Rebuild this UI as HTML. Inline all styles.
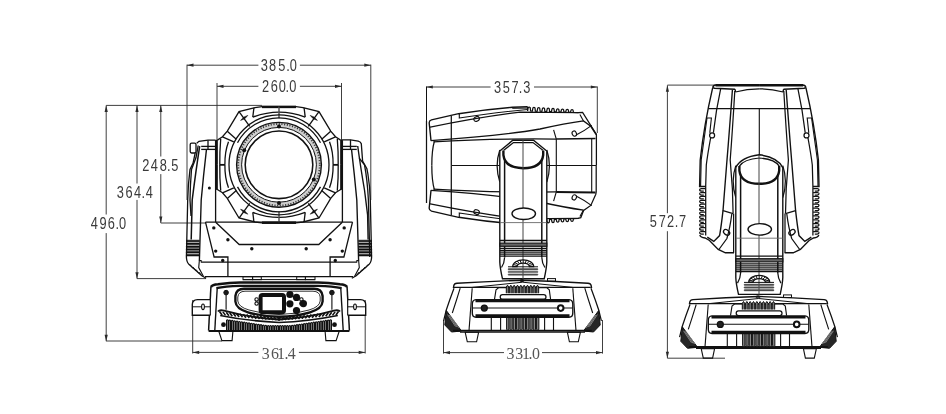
<!DOCTYPE html>
<html><head><meta charset="utf-8"><style>
html,body{margin:0;padding:0;background:#fff;}
svg{display:block;}
text{font-family:"Liberation Sans",sans-serif;}
</style></head><body>
<svg width="946" height="414" viewBox="0 0 946 414">
<defs><filter id="gs" x="-10%" y="-10%" width="120%" height="120%"><feOffset dx="0" dy="0"/></filter></defs>
<rect width="946" height="414" fill="#fff"/>
<line x1="187.00" y1="65.20" x2="258.40" y2="65.20" stroke="#2a2a2a" stroke-width="0.90" />
<line x1="299.90" y1="65.20" x2="370.80" y2="65.20" stroke="#2a2a2a" stroke-width="0.90" />
<polygon points="187.00,65.20 193.50,63.60 193.50,66.80" fill="#2a2a2a"/>
<polygon points="370.80,65.20 364.30,66.80 364.30,63.60" fill="#2a2a2a"/>
<line x1="187.00" y1="64.60" x2="187.00" y2="200.00" stroke="#2a2a2a" stroke-width="0.90" />
<line x1="370.80" y1="64.60" x2="370.80" y2="200.00" stroke="#2a2a2a" stroke-width="0.90" />
<line x1="217.00" y1="86.30" x2="258.40" y2="86.30" stroke="#2a2a2a" stroke-width="0.90" />
<line x1="299.90" y1="86.30" x2="341.50" y2="86.30" stroke="#2a2a2a" stroke-width="0.90" />
<polygon points="217.00,86.30 223.50,84.70 223.50,87.90" fill="#2a2a2a"/>
<polygon points="341.50,86.30 335.00,87.90 335.00,84.70" fill="#2a2a2a"/>
<line x1="217.00" y1="83.00" x2="217.00" y2="140.00" stroke="#2a2a2a" stroke-width="0.90" />
<line x1="341.50" y1="83.00" x2="341.50" y2="140.00" stroke="#2a2a2a" stroke-width="0.90" />
<line x1="106.20" y1="105.40" x2="262.00" y2="105.40" stroke="#2a2a2a" stroke-width="0.90" />
<line x1="106.20" y1="105.40" x2="106.20" y2="214.50" stroke="#2a2a2a" stroke-width="0.90" />
<line x1="106.20" y1="233.10" x2="106.20" y2="341.20" stroke="#2a2a2a" stroke-width="0.90" />
<polygon points="106.20,105.40 107.80,111.90 104.60,111.90" fill="#2a2a2a"/>
<polygon points="106.20,341.20 104.60,334.70 107.80,334.70" fill="#2a2a2a"/>
<line x1="137.00" y1="105.40" x2="137.00" y2="183.50" stroke="#2a2a2a" stroke-width="0.90" />
<line x1="137.00" y1="199.90" x2="137.00" y2="278.70" stroke="#2a2a2a" stroke-width="0.90" />
<polygon points="137.00,105.40 138.60,111.90 135.40,111.90" fill="#2a2a2a"/>
<polygon points="137.00,278.70 135.40,272.20 138.60,272.20" fill="#2a2a2a"/>
<line x1="160.80" y1="105.40" x2="160.80" y2="156.50" stroke="#2a2a2a" stroke-width="0.90" />
<line x1="160.80" y1="174.10" x2="160.80" y2="223.00" stroke="#2a2a2a" stroke-width="0.90" />
<polygon points="160.80,105.40 162.40,111.90 159.20,111.90" fill="#2a2a2a"/>
<polygon points="160.80,223.00 159.20,216.50 162.40,216.50" fill="#2a2a2a"/>
<line x1="160.80" y1="223.00" x2="206.00" y2="223.00" stroke="#2a2a2a" stroke-width="0.90" />
<line x1="137.00" y1="278.60" x2="206.00" y2="278.60" stroke="#2a2a2a" stroke-width="0.90" />
<line x1="106.20" y1="341.00" x2="222.00" y2="341.00" stroke="#2a2a2a" stroke-width="0.90" />
<line x1="192.70" y1="352.40" x2="258.40" y2="352.40" stroke="#2a2a2a" stroke-width="0.90" />
<line x1="298.90" y1="352.40" x2="365.20" y2="352.40" stroke="#2a2a2a" stroke-width="0.90" />
<polygon points="192.70,352.40 199.20,350.80 199.20,354.00" fill="#2a2a2a"/>
<polygon points="365.20,352.40 358.70,354.00 358.70,350.80" fill="#2a2a2a"/>
<line x1="192.70" y1="300.00" x2="192.70" y2="353.50" stroke="#2a2a2a" stroke-width="0.90" />
<line x1="365.20" y1="300.00" x2="365.20" y2="353.50" stroke="#2a2a2a" stroke-width="0.90" />
<text x="0" y="0" transform="translate(264.40,70.80) scale(0.8,1)" font-size="16"  text-anchor="middle" fill="#3a3a3a" filter="url(#gs)">3</text>
<text x="0" y="0" transform="translate(272.50,70.80) scale(0.8,1)" font-size="16"  text-anchor="middle" fill="#3a3a3a" filter="url(#gs)">8</text>
<text x="0" y="0" transform="translate(281.80,70.80) scale(0.8,1)" font-size="16"  text-anchor="middle" fill="#3a3a3a" filter="url(#gs)">5</text>
<text x="0" y="0" transform="translate(288.00,70.80) scale(0.8,1)" font-size="16"  text-anchor="middle" fill="#3a3a3a" filter="url(#gs)">.</text>
<text x="0" y="0" transform="translate(293.40,70.80) scale(0.8,1)" font-size="16"  text-anchor="middle" fill="#3a3a3a" filter="url(#gs)">0</text>
<text x="0" y="0" transform="translate(265.60,91.80) scale(0.8,1)" font-size="16"  text-anchor="middle" fill="#3a3a3a" filter="url(#gs)">2</text>
<text x="0" y="0" transform="translate(274.30,91.80) scale(0.8,1)" font-size="16"  text-anchor="middle" fill="#3a3a3a" filter="url(#gs)">6</text>
<text x="0" y="0" transform="translate(282.20,91.80) scale(0.8,1)" font-size="16"  text-anchor="middle" fill="#3a3a3a" filter="url(#gs)">0</text>
<text x="0" y="0" transform="translate(287.20,91.80) scale(0.8,1)" font-size="16"  text-anchor="middle" fill="#3a3a3a" filter="url(#gs)">.</text>
<text x="0" y="0" transform="translate(292.80,91.80) scale(0.8,1)" font-size="16"  text-anchor="middle" fill="#3a3a3a" filter="url(#gs)">0</text>
<text x="0" y="0" transform="translate(145.80,170.70) scale(0.8,1)" font-size="16"  text-anchor="middle" fill="#3a3a3a" filter="url(#gs)">2</text>
<text x="0" y="0" transform="translate(154.40,170.70) scale(0.8,1)" font-size="16"  text-anchor="middle" fill="#3a3a3a" filter="url(#gs)">4</text>
<text x="0" y="0" transform="translate(163.30,170.70) scale(0.8,1)" font-size="16"  text-anchor="middle" fill="#3a3a3a" filter="url(#gs)">8</text>
<text x="0" y="0" transform="translate(168.90,170.70) scale(0.8,1)" font-size="16"  text-anchor="middle" fill="#3a3a3a" filter="url(#gs)">.</text>
<text x="0" y="0" transform="translate(174.70,170.70) scale(0.8,1)" font-size="16"  text-anchor="middle" fill="#3a3a3a" filter="url(#gs)">5</text>
<text x="0" y="0" transform="translate(120.30,197.70) scale(0.8,1)" font-size="16"  text-anchor="middle" fill="#3a3a3a" filter="url(#gs)">3</text>
<text x="0" y="0" transform="translate(129.00,197.70) scale(0.8,1)" font-size="16"  text-anchor="middle" fill="#3a3a3a" filter="url(#gs)">6</text>
<text x="0" y="0" transform="translate(137.60,197.70) scale(0.8,1)" font-size="16"  text-anchor="middle" fill="#3a3a3a" filter="url(#gs)">4</text>
<text x="0" y="0" transform="translate(143.40,197.70) scale(0.8,1)" font-size="16"  text-anchor="middle" fill="#3a3a3a" filter="url(#gs)">.</text>
<text x="0" y="0" transform="translate(149.20,197.70) scale(0.8,1)" font-size="16"  text-anchor="middle" fill="#3a3a3a" filter="url(#gs)">4</text>
<text x="0" y="0" transform="translate(94.20,229.10) scale(0.8,1)" font-size="16"  text-anchor="middle" fill="#3a3a3a" filter="url(#gs)">4</text>
<text x="0" y="0" transform="translate(103.10,229.10) scale(0.8,1)" font-size="16"  text-anchor="middle" fill="#3a3a3a" filter="url(#gs)">9</text>
<text x="0" y="0" transform="translate(111.30,229.10) scale(0.8,1)" font-size="16"  text-anchor="middle" fill="#3a3a3a" filter="url(#gs)">6</text>
<text x="0" y="0" transform="translate(117.40,229.10) scale(0.8,1)" font-size="16"  text-anchor="middle" fill="#3a3a3a" filter="url(#gs)">.</text>
<text x="0" y="0" transform="translate(122.50,229.10) scale(0.8,1)" font-size="16"  text-anchor="middle" fill="#3a3a3a" filter="url(#gs)">0</text>
<text x="0" y="0" transform="translate(497.60,92.65) scale(0.8,1)" font-size="16"  text-anchor="middle" fill="#3a3a3a" filter="url(#gs)">3</text>
<text x="0" y="0" transform="translate(506.20,92.65) scale(0.8,1)" font-size="16"  text-anchor="middle" fill="#3a3a3a" filter="url(#gs)">5</text>
<text x="0" y="0" transform="translate(515.10,92.65) scale(0.8,1)" font-size="16"  text-anchor="middle" fill="#3a3a3a" filter="url(#gs)">7</text>
<text x="0" y="0" transform="translate(520.50,92.65) scale(0.8,1)" font-size="16"  text-anchor="middle" fill="#3a3a3a" filter="url(#gs)">.</text>
<text x="0" y="0" transform="translate(526.80,92.65) scale(0.8,1)" font-size="16"  text-anchor="middle" fill="#3a3a3a" filter="url(#gs)">3</text>
<text x="0" y="0" transform="translate(653.30,227.20) scale(0.8,1)" font-size="16"  text-anchor="middle" fill="#3a3a3a" filter="url(#gs)">5</text>
<text x="0" y="0" transform="translate(662.30,227.20) scale(0.8,1)" font-size="16"  text-anchor="middle" fill="#3a3a3a" filter="url(#gs)">7</text>
<text x="0" y="0" transform="translate(670.50,227.20) scale(0.8,1)" font-size="16"  text-anchor="middle" fill="#3a3a3a" filter="url(#gs)">2</text>
<text x="0" y="0" transform="translate(676.60,227.20) scale(0.8,1)" font-size="16"  text-anchor="middle" fill="#3a3a3a" filter="url(#gs)">.</text>
<text x="0" y="0" transform="translate(682.50,227.20) scale(0.8,1)" font-size="16"  text-anchor="middle" fill="#3a3a3a" filter="url(#gs)">7</text>
<text x="0" y="0" transform="translate(265.80,358.60) scale(0.9,1)" font-size="17.7" style="font-family:&quot;Liberation Serif&quot;,serif" text-anchor="middle" fill="#555" filter="url(#gs)">3</text>
<text x="0" y="0" transform="translate(275.10,358.60) scale(0.9,1)" font-size="17.7" style="font-family:&quot;Liberation Serif&quot;,serif" text-anchor="middle" fill="#555" filter="url(#gs)">6</text>
<text x="0" y="0" transform="translate(281.10,358.60) scale(0.9,1)" font-size="17.7" style="font-family:&quot;Liberation Serif&quot;,serif" text-anchor="middle" fill="#555" filter="url(#gs)">1</text>
<text x="0" y="0" transform="translate(286.40,358.60) scale(0.9,1)" font-size="17.7" style="font-family:&quot;Liberation Serif&quot;,serif" text-anchor="middle" fill="#555" filter="url(#gs)">.</text>
<text x="0" y="0" transform="translate(291.70,358.60) scale(0.9,1)" font-size="17.7" style="font-family:&quot;Liberation Serif&quot;,serif" text-anchor="middle" fill="#555" filter="url(#gs)">4</text>
<text x="0" y="0" transform="translate(510.60,358.60) scale(0.9,1)" font-size="17.7" style="font-family:&quot;Liberation Serif&quot;,serif" text-anchor="middle" fill="#555" filter="url(#gs)">3</text>
<text x="0" y="0" transform="translate(519.30,358.60) scale(0.9,1)" font-size="17.7" style="font-family:&quot;Liberation Serif&quot;,serif" text-anchor="middle" fill="#555" filter="url(#gs)">3</text>
<text x="0" y="0" transform="translate(526.00,358.60) scale(0.9,1)" font-size="17.7" style="font-family:&quot;Liberation Serif&quot;,serif" text-anchor="middle" fill="#555" filter="url(#gs)">1</text>
<text x="0" y="0" transform="translate(530.60,358.60) scale(0.9,1)" font-size="17.7" style="font-family:&quot;Liberation Serif&quot;,serif" text-anchor="middle" fill="#555" filter="url(#gs)">.</text>
<text x="0" y="0" transform="translate(536.00,358.60) scale(0.9,1)" font-size="17.7" style="font-family:&quot;Liberation Serif&quot;,serif" text-anchor="middle" fill="#555" filter="url(#gs)">0</text>
<line x1="426.30" y1="87.00" x2="490.60" y2="87.00" stroke="#2a2a2a" stroke-width="0.90" />
<line x1="534.00" y1="87.00" x2="597.30" y2="87.00" stroke="#2a2a2a" stroke-width="0.90" />
<polygon points="426.30,87.00 432.80,85.40 432.80,88.60" fill="#2a2a2a"/>
<polygon points="597.30,87.00 590.80,88.60 590.80,85.40" fill="#2a2a2a"/>
<line x1="426.50" y1="86.50" x2="426.50" y2="121.00" stroke="#111" stroke-width="1.06" />
<line x1="597.30" y1="86.50" x2="597.30" y2="133.00" stroke="#2a2a2a" stroke-width="0.90" />
<line x1="443.50" y1="352.60" x2="504.00" y2="352.60" stroke="#2a2a2a" stroke-width="0.90" />
<line x1="542.00" y1="352.60" x2="602.50" y2="352.60" stroke="#2a2a2a" stroke-width="0.90" />
<polygon points="443.50,352.60 450.00,351.00 450.00,354.20" fill="#2a2a2a"/>
<polygon points="602.50,352.60 596.00,354.20 596.00,351.00" fill="#2a2a2a"/>
<line x1="443.50" y1="320.00" x2="443.50" y2="353.60" stroke="#2a2a2a" stroke-width="0.90" />
<line x1="602.50" y1="320.00" x2="602.50" y2="353.60" stroke="#2a2a2a" stroke-width="0.90" />
<line x1="667.40" y1="85.30" x2="667.40" y2="213.20" stroke="#2a2a2a" stroke-width="0.90" />
<line x1="667.40" y1="231.20" x2="667.40" y2="358.20" stroke="#2a2a2a" stroke-width="0.90" />
<polygon points="667.40,85.30 669.00,91.80 665.80,91.80" fill="#2a2a2a"/>
<polygon points="667.40,358.20 665.80,351.70 669.00,351.70" fill="#2a2a2a"/>
<line x1="667.40" y1="85.10" x2="715.00" y2="85.10" stroke="#2a2a2a" stroke-width="0.90" />
<line x1="667.40" y1="358.20" x2="725.00" y2="358.20" stroke="#2a2a2a" stroke-width="0.90" />
<polyline points="279.00,106.70 262.00,106.70 255.00,107.60 239.00,111.60 227.30,131.20 222.50,136.80 218.20,139.60 216.40,140.60 216.40,164.80" fill="none" stroke="#111" stroke-width="1.31" />
<line x1="262.00" y1="106.90" x2="279.00" y2="106.90" stroke="#111" stroke-width="2.50" />
<line x1="216.60" y1="140.50" x2="216.60" y2="164.80" stroke="#111" stroke-width="2.50" />
<polyline points="253.90,107.80 252.80,117.20" fill="none" stroke="#111" stroke-width="1.31" />
<path d="M252.8,117.2 Q266,112.2 279,112.2" fill="none" stroke="#111" stroke-width="1.31" />
<line x1="239.20" y1="111.80" x2="249.70" y2="126.30" stroke="#111" stroke-width="1.31" />
<line x1="227.30" y1="131.20" x2="236.30" y2="139.20" stroke="#111" stroke-width="1.31" />
<line x1="222.50" y1="136.80" x2="233.80" y2="141.80" stroke="#111" stroke-width="1.31" />
<path d="M240.6,120.4 L243.6,117.2 L247.8,115.4 L244.8,118.7 Z" fill="#111" stroke="#111" stroke-width="0.6"/>
<path d="M220.7,139 Q219.6,152 219.8,164.8" fill="none" stroke="#111" stroke-width="1.31" />
<path d="M228.5,141.8 Q224.7,152 224.9,164.8" fill="none" stroke="#111" stroke-width="1.31" />
<line x1="219.80" y1="164.60" x2="224.90" y2="164.60" stroke="#111" stroke-width="1.31" />
<line x1="279.00" y1="106.70" x2="279.00" y2="118.30" stroke="#555" stroke-width="1.00" />
<g transform="translate(558.0,0) scale(-1,1)">
<polyline points="279.00,106.70 262.00,106.70 255.00,107.60 239.00,111.60 227.30,131.20 222.50,136.80 218.20,139.60 216.40,140.60 216.40,164.80" fill="none" stroke="#111" stroke-width="1.31" />
<line x1="262.00" y1="106.90" x2="279.00" y2="106.90" stroke="#111" stroke-width="2.50" />
<line x1="216.60" y1="140.50" x2="216.60" y2="164.80" stroke="#111" stroke-width="2.50" />
<polyline points="253.90,107.80 252.80,117.20" fill="none" stroke="#111" stroke-width="1.31" />
<path d="M252.8,117.2 Q266,112.2 279,112.2" fill="none" stroke="#111" stroke-width="1.31" />
<line x1="239.20" y1="111.80" x2="249.70" y2="126.30" stroke="#111" stroke-width="1.31" />
<line x1="227.30" y1="131.20" x2="236.30" y2="139.20" stroke="#111" stroke-width="1.31" />
<line x1="222.50" y1="136.80" x2="233.80" y2="141.80" stroke="#111" stroke-width="1.31" />
<path d="M240.6,120.4 L243.6,117.2 L247.8,115.4 L244.8,118.7 Z" fill="#111" stroke="#111" stroke-width="0.6"/>
<path d="M220.7,139 Q219.6,152 219.8,164.8" fill="none" stroke="#111" stroke-width="1.31" />
<path d="M228.5,141.8 Q224.7,152 224.9,164.8" fill="none" stroke="#111" stroke-width="1.31" />
<line x1="219.80" y1="164.60" x2="224.90" y2="164.60" stroke="#111" stroke-width="1.31" />
<line x1="279.00" y1="106.70" x2="279.00" y2="118.30" stroke="#555" stroke-width="1.00" />
</g>
<g transform="translate(0,329.6) scale(1,-1)">
<polyline points="279.00,106.70 262.00,106.70 255.00,107.60 239.00,111.60 227.30,131.20 222.50,136.80 218.20,139.60 216.40,140.60 216.40,164.80" fill="none" stroke="#111" stroke-width="1.31" />
<line x1="262.00" y1="106.90" x2="279.00" y2="106.90" stroke="#111" stroke-width="2.50" />
<line x1="216.60" y1="140.50" x2="216.60" y2="164.80" stroke="#111" stroke-width="2.50" />
<polyline points="253.90,107.80 252.80,117.20" fill="none" stroke="#111" stroke-width="1.31" />
<path d="M252.8,117.2 Q266,112.2 279,112.2" fill="none" stroke="#111" stroke-width="1.31" />
<line x1="239.20" y1="111.80" x2="249.70" y2="126.30" stroke="#111" stroke-width="1.31" />
<line x1="227.30" y1="131.20" x2="236.30" y2="139.20" stroke="#111" stroke-width="1.31" />
<line x1="222.50" y1="136.80" x2="233.80" y2="141.80" stroke="#111" stroke-width="1.31" />
<path d="M240.6,120.4 L243.6,117.2 L247.8,115.4 L244.8,118.7 Z" fill="#111" stroke="#111" stroke-width="0.6"/>
<path d="M220.7,139 Q219.6,152 219.8,164.8" fill="none" stroke="#111" stroke-width="1.31" />
<path d="M228.5,141.8 Q224.7,152 224.9,164.8" fill="none" stroke="#111" stroke-width="1.31" />
<line x1="219.80" y1="164.60" x2="224.90" y2="164.60" stroke="#111" stroke-width="1.31" />
<line x1="279.00" y1="106.70" x2="279.00" y2="118.30" stroke="#555" stroke-width="1.00" />
</g>
<g transform="translate(558.0,329.6) scale(-1,-1)">
<polyline points="279.00,106.70 262.00,106.70 255.00,107.60 239.00,111.60 227.30,131.20 222.50,136.80 218.20,139.60 216.40,140.60 216.40,164.80" fill="none" stroke="#111" stroke-width="1.31" />
<line x1="262.00" y1="106.90" x2="279.00" y2="106.90" stroke="#111" stroke-width="2.50" />
<line x1="216.60" y1="140.50" x2="216.60" y2="164.80" stroke="#111" stroke-width="2.50" />
<polyline points="253.90,107.80 252.80,117.20" fill="none" stroke="#111" stroke-width="1.31" />
<path d="M252.8,117.2 Q266,112.2 279,112.2" fill="none" stroke="#111" stroke-width="1.31" />
<line x1="239.20" y1="111.80" x2="249.70" y2="126.30" stroke="#111" stroke-width="1.31" />
<line x1="227.30" y1="131.20" x2="236.30" y2="139.20" stroke="#111" stroke-width="1.31" />
<line x1="222.50" y1="136.80" x2="233.80" y2="141.80" stroke="#111" stroke-width="1.31" />
<path d="M240.6,120.4 L243.6,117.2 L247.8,115.4 L244.8,118.7 Z" fill="#111" stroke="#111" stroke-width="0.6"/>
<path d="M220.7,139 Q219.6,152 219.8,164.8" fill="none" stroke="#111" stroke-width="1.31" />
<path d="M228.5,141.8 Q224.7,152 224.9,164.8" fill="none" stroke="#111" stroke-width="1.31" />
<line x1="219.80" y1="164.60" x2="224.90" y2="164.60" stroke="#111" stroke-width="1.31" />
<line x1="279.00" y1="106.70" x2="279.00" y2="118.30" stroke="#555" stroke-width="1.00" />
</g>
<circle cx="279.00" cy="164.80" r="50.00" fill="none" stroke="#111" stroke-width="1.31" />
<path d="M237.50,142.73 A47.0,47.0 0 0 1 320.50,142.73" fill="none" stroke="#111" stroke-width="1.31" />
<path d="M320.50,186.87 A47.0,47.0 0 0 1 237.50,186.87" fill="none" stroke="#111" stroke-width="1.31" />
<circle cx="279.00" cy="164.80" r="39.90" fill="none" stroke="#cfcfcf" stroke-width="5.00" />
<circle cx="279.00" cy="164.80" r="42.40" fill="none" stroke="#111" stroke-width="1.38" />
<circle cx="279.00" cy="164.80" r="37.40" fill="none" stroke="#111" stroke-width="1.00" />
<circle cx="279.00" cy="164.80" r="40.80" fill="none" stroke="#333" stroke-width="1.88" stroke-dasharray="1.1 1.6"/>
<circle cx="279.00" cy="164.80" r="33.80" fill="none" stroke="#111" stroke-width="1.56" />
<circle cx="279.00" cy="126.40" r="2.00" fill="#111"/>
<circle cx="279.00" cy="203.00" r="2.00" fill="#111"/>
<circle cx="244.20" cy="150.20" r="2.00" fill="#111"/>
<circle cx="313.80" cy="179.40" r="2.00" fill="#111"/>
<rect x="190.20" y="143.20" width="5.80" height="9.80" rx="1.4" fill="none" stroke="#111" stroke-width="1.31" />
<polyline points="196.70,143.20 199.00,141.30 208.00,140.20 215.60,140.20" fill="none" stroke="#111" stroke-width="1.31" />
<line x1="208.00" y1="140.20" x2="208.00" y2="149.20" stroke="#111" stroke-width="1.31" />
<path d="M195.2,153 L193,163.4 L190,169.4 Q188,185 187.7,200 L186.4,257" fill="none" stroke="#111" stroke-width="1.31" />
<path d="M198.2,145.5 L196,157.5 L191.5,169.4 Q190.2,185 190,200 L191.0,216" fill="none" stroke="#111" stroke-width="1.31" />
<circle cx="209.40" cy="188.10" r="1.50" fill="#111"/>
<line x1="201.20" y1="146.40" x2="215.60" y2="146.40" stroke="#111" stroke-width="1.31" />
<line x1="201.20" y1="149.40" x2="215.60" y2="149.40" stroke="#111" stroke-width="1.31" />
<path d="M199.7,146.2 Q196,170 192.2,200 L191.2,239.4" fill="none" stroke="#111" stroke-width="1.50" />
<path d="M206.5,149.2 Q203.5,175 201.2,200 L199.4,260 L200.6,260.5 L201.8,261.4" fill="none" stroke="#111" stroke-width="1.38" />
<line x1="215.60" y1="140.20" x2="215.60" y2="222.00" stroke="#111" stroke-width="1.31" />
<rect x="186.40" y="240.20" width="13.00" height="1.50" rx="0.6" fill="#111" stroke="#111" stroke-width="0.62" />
<rect x="186.40" y="243.05" width="13.00" height="1.50" rx="0.6" fill="#111" stroke="#111" stroke-width="0.62" />
<rect x="186.40" y="245.90" width="13.00" height="1.50" rx="0.6" fill="#111" stroke="#111" stroke-width="0.62" />
<rect x="186.40" y="248.75" width="13.00" height="1.50" rx="0.6" fill="#111" stroke="#111" stroke-width="0.62" />
<rect x="186.40" y="251.60" width="13.00" height="1.50" rx="0.6" fill="#111" stroke="#111" stroke-width="0.62" />
<rect x="186.40" y="254.45" width="13.00" height="1.50" rx="0.6" fill="#111" stroke="#111" stroke-width="0.62" />
<path d="M186.4,257 Q186.6,262 188.6,263.9 L201.8,275.8 L206.2,278.3" fill="none" stroke="#111" stroke-width="1.31" />
<path d="M199.4,260 L198.7,267.6 L203.5,276.5" fill="none" stroke="#111" stroke-width="1.12" />
<line x1="190.00" y1="264.50" x2="193.00" y2="268.50" stroke="#111" stroke-width="0.88" />
<line x1="193.00" y1="267.00" x2="196.00" y2="271.00" stroke="#111" stroke-width="0.88" />
<line x1="196.00" y1="269.50" x2="199.00" y2="273.50" stroke="#111" stroke-width="0.88" />
<line x1="199.00" y1="272.00" x2="202.00" y2="276.00" stroke="#111" stroke-width="0.88" />
<g transform="translate(558.0,0) scale(-1,1)">
<path d="M216.2,139.8 L207.5,139.8 L199.8,141.2 Q197.2,142 196.7,143.7 L195.4,161 L191.1,168.8 L190.1,174 Q188,187 187.7,200 L186.4,257" fill="none" stroke="#111" stroke-width="1.31" />
<line x1="207.50" y1="139.80" x2="207.50" y2="149.50" stroke="#111" stroke-width="1.31" />
<path d="M198.8,158.2 L193.5,164.9 Q190.6,180 189.6,200 L188.2,257" fill="none" stroke="#111" stroke-width="1.31" />
<line x1="201.20" y1="146.40" x2="215.60" y2="146.40" stroke="#111" stroke-width="1.31" />
<line x1="201.20" y1="149.40" x2="215.60" y2="149.40" stroke="#111" stroke-width="1.31" />
<path d="M200.3,146 Q197,170 193.5,190 L190.4,215 L189.9,239.4" fill="none" stroke="#111" stroke-width="1.38" />
<path d="M206.5,149.2 Q203.5,175 201.2,200 L199.4,260 L200.6,260.5 L201.8,261.4" fill="none" stroke="#111" stroke-width="1.38" />
<line x1="215.60" y1="140.20" x2="215.60" y2="222.00" stroke="#111" stroke-width="1.31" />
<rect x="186.40" y="240.20" width="13.00" height="1.50" rx="0.6" fill="#111" stroke="#111" stroke-width="0.62" />
<rect x="186.40" y="243.05" width="13.00" height="1.50" rx="0.6" fill="#111" stroke="#111" stroke-width="0.62" />
<rect x="186.40" y="245.90" width="13.00" height="1.50" rx="0.6" fill="#111" stroke="#111" stroke-width="0.62" />
<rect x="186.40" y="248.75" width="13.00" height="1.50" rx="0.6" fill="#111" stroke="#111" stroke-width="0.62" />
<rect x="186.40" y="251.60" width="13.00" height="1.50" rx="0.6" fill="#111" stroke="#111" stroke-width="0.62" />
<rect x="186.40" y="254.45" width="13.00" height="1.50" rx="0.6" fill="#111" stroke="#111" stroke-width="0.62" />
<path d="M186.4,257 Q186.6,262 188.6,263.9 L201.8,275.8 L206.2,278.3" fill="none" stroke="#111" stroke-width="1.31" />
<path d="M199.4,260 L198.7,267.6 L203.5,276.5" fill="none" stroke="#111" stroke-width="1.12" />
<line x1="190.00" y1="264.50" x2="193.00" y2="268.50" stroke="#111" stroke-width="0.88" />
<line x1="193.00" y1="267.00" x2="196.00" y2="271.00" stroke="#111" stroke-width="0.88" />
<line x1="196.00" y1="269.50" x2="199.00" y2="273.50" stroke="#111" stroke-width="0.88" />
<line x1="199.00" y1="272.00" x2="202.00" y2="276.00" stroke="#111" stroke-width="0.88" />
</g>
<polyline points="205.50,222.20 214.10,257.00 227.90,257.00 227.90,276.30" fill="none" stroke="#111" stroke-width="1.31" />
<polyline points="215.70,222.20 239.20,244.50 279.00,244.50" fill="none" stroke="#111" stroke-width="1.31" />
<circle cx="213.80" cy="227.90" r="1.70" fill="#111"/>
<circle cx="227.90" cy="239.80" r="1.70" fill="#111"/>
<circle cx="215.70" cy="251.10" r="1.70" fill="#111"/>
<circle cx="222.70" cy="260.50" r="1.70" fill="#111"/>
<circle cx="251.80" cy="248.70" r="1.70" fill="#111"/>
<g transform="translate(558.0,0) scale(-1,1)">
<polyline points="205.50,222.20 214.10,257.00 227.90,257.00 227.90,276.30" fill="none" stroke="#111" stroke-width="1.31" />
<polyline points="215.70,222.20 239.20,244.50 279.00,244.50" fill="none" stroke="#111" stroke-width="1.31" />
<circle cx="213.80" cy="227.90" r="1.70" fill="#111"/>
<circle cx="227.90" cy="239.80" r="1.70" fill="#111"/>
<circle cx="215.70" cy="251.10" r="1.70" fill="#111"/>
<circle cx="222.70" cy="260.50" r="1.70" fill="#111"/>
<circle cx="251.80" cy="248.70" r="1.70" fill="#111"/>
</g>
<line x1="205.50" y1="222.20" x2="352.50" y2="222.20" stroke="#111" stroke-width="1.31" />
<line x1="200.80" y1="262.10" x2="357.20" y2="262.10" stroke="#111" stroke-width="1.31" />
<line x1="205.00" y1="276.60" x2="353.00" y2="276.60" stroke="#111" stroke-width="1.31" />
<rect x="243.00" y="276.70" width="9.60" height="3.00" rx="0" fill="none" stroke="#111" stroke-width="1.00" />
<rect x="252.60" y="276.70" width="8.70" height="3.00" rx="0" fill="none" stroke="#111" stroke-width="1.00" />
<path d="M210.9,287 Q212.5,284.4 218,284.2 Q230,282.6 240,282.4 L279,282.4" fill="none" stroke="#111" stroke-width="2.50" />
<path d="M216.4,288.2 Q225,286 240,285.8 L279,285.8" fill="none" stroke="#111" stroke-width="2.25" />
<path d="M210.9,287 L208.6,330.5" fill="none" stroke="#111" stroke-width="1.50" />
<line x1="217.20" y1="288.20" x2="214.80" y2="330.50" stroke="#111" stroke-width="1.38" />
<path d="M210.3,299.6 L197.5,299.6 Q192.3,299.8 192.3,304.5 L192.3,315.3 L210.3,315.3" fill="#fff" stroke="#111" stroke-width="1.38" />
<line x1="192.30" y1="306.80" x2="210.30" y2="306.80" stroke="#111" stroke-width="1.00" />
<ellipse cx="203.00" cy="306.80" rx="1.40" ry="2.80" fill="#fff" stroke="#111" stroke-width="1.12" />
<line x1="210.30" y1="299.60" x2="210.30" y2="315.30" stroke="#111" stroke-width="1.12" />
<circle cx="226.10" cy="292.60" r="2.30" fill="#1a1a1a" stroke="#111" stroke-width="1.00" />
<line x1="226.10" y1="294.50" x2="226.10" y2="309.80" stroke="#111" stroke-width="1.12" />
<polygon points="218.80,331.20 232.90,331.20 232.10,340.60 221.90,340.60" fill="none" stroke="#111" stroke-width="1.12" />
<circle cx="223.50" cy="324.70" r="2.40" fill="#111"/>
<path d="M279,288.8 L244,288.8 Q236.2,288.9 235.4,296 L235.4,301.5 Q236,308.8 248,312.3 Q262,316.5 279,316.8" fill="none" stroke="#111" stroke-width="2.38" />
<path d="M279,291.2 L245,291.2 Q238.4,291.4 237.8,297 L237.8,301 Q238.5,307 249,310 Q263,314.3 279,314.5" fill="none" stroke="#111" stroke-width="0.88" />
<circle cx="256.60" cy="299.40" r="1.70" fill="none" stroke="#111" stroke-width="1.12" />
<circle cx="256.60" cy="303.60" r="1.70" fill="none" stroke="#111" stroke-width="1.12" />
<path d="M218,311.5 Q219.5,309.4 224,310.6 Q250,317.8 279,319.4" fill="none" stroke="#111" stroke-width="2.00" />
<path d="M220.2,315.4 Q250,321.4 279,322.4" fill="none" stroke="#111" stroke-width="1.50" />
<line x1="219.50" y1="311.43" x2="222.10" y2="314.93" stroke="#111" stroke-width="1.62" />
<line x1="222.90" y1="311.87" x2="225.50" y2="315.37" stroke="#111" stroke-width="1.62" />
<line x1="226.30" y1="312.29" x2="228.90" y2="315.79" stroke="#111" stroke-width="1.62" />
<line x1="229.70" y1="312.70" x2="232.30" y2="316.20" stroke="#111" stroke-width="1.62" />
<line x1="233.10" y1="313.10" x2="235.70" y2="316.60" stroke="#111" stroke-width="1.62" />
<line x1="236.50" y1="313.48" x2="239.10" y2="316.98" stroke="#111" stroke-width="1.62" />
<line x1="239.90" y1="313.85" x2="242.50" y2="317.35" stroke="#111" stroke-width="1.62" />
<line x1="243.30" y1="314.21" x2="245.90" y2="317.71" stroke="#111" stroke-width="1.62" />
<line x1="246.70" y1="314.55" x2="249.30" y2="318.05" stroke="#111" stroke-width="1.62" />
<line x1="250.10" y1="314.88" x2="252.70" y2="318.38" stroke="#111" stroke-width="1.62" />
<line x1="253.50" y1="315.19" x2="256.10" y2="318.69" stroke="#111" stroke-width="1.62" />
<line x1="256.90" y1="315.49" x2="259.50" y2="318.99" stroke="#111" stroke-width="1.62" />
<line x1="260.30" y1="315.77" x2="262.90" y2="319.27" stroke="#111" stroke-width="1.62" />
<line x1="263.70" y1="316.05" x2="266.30" y2="319.55" stroke="#111" stroke-width="1.62" />
<line x1="267.10" y1="316.31" x2="269.70" y2="319.81" stroke="#111" stroke-width="1.62" />
<line x1="270.50" y1="316.55" x2="273.10" y2="320.05" stroke="#111" stroke-width="1.62" />
<line x1="273.90" y1="316.78" x2="276.50" y2="320.28" stroke="#111" stroke-width="1.62" />
<line x1="277.30" y1="317.00" x2="279.90" y2="320.50" stroke="#111" stroke-width="1.62" />
<path d="M226.60,330.8 L226.60,320.39 Q227.40,319.09 228.20,320.39 L228.20,330.8 M229.00,330.8 L229.00,320.74 Q229.80,319.44 230.60,320.74 L230.60,330.8 M231.40,330.8 L231.40,321.09 Q232.20,319.79 233.00,321.09 L233.00,330.8 M233.80,330.8 L233.80,321.45 Q234.60,320.15 235.40,321.45 L235.40,330.8 M236.20,330.8 L236.20,321.80 Q237.00,320.50 237.80,321.80 L237.80,330.8 M238.60,330.8 L238.60,322.15 Q239.40,320.85 240.20,322.15 L240.20,330.8 M241.00,330.8 L241.00,322.51 Q241.80,321.21 242.60,322.51 L242.60,330.8 M243.40,330.8 L243.40,322.86 Q244.20,321.56 245.00,322.86 L245.00,330.8 M245.80,330.8 L245.80,323.21 Q246.60,321.91 247.40,323.21 L247.40,330.8 M248.20,330.8 L248.20,323.57 Q249.00,322.27 249.80,323.57 L249.80,330.8 M250.60,330.8 L250.60,323.92 Q251.40,322.62 252.20,323.92 L252.20,330.8 M253.00,330.8 L253.00,324.27 Q253.80,322.97 254.60,324.27 L254.60,330.8 M255.40,330.8 L255.40,324.63 Q256.20,323.33 257.00,324.63 L257.00,330.8 M257.80,330.8 L257.80,324.98 Q258.60,323.68 259.40,324.98 L259.40,330.8 M260.20,330.8 L260.20,325.33 Q261.00,324.03 261.80,325.33 L261.80,330.8 M262.60,330.8 L262.60,325.69 Q263.40,324.39 264.20,325.69 L264.20,330.8 M265.00,330.8 L265.00,326.04 Q265.80,324.74 266.60,326.04 L266.60,330.8 M267.40,330.8 L267.40,326.30 Q268.20,325.00 269.00,326.30 L269.00,330.8 M269.80,330.8 L269.80,326.30 Q270.60,325.00 271.40,326.30 L271.40,330.8 M272.20,330.8 L272.20,326.30 Q273.00,325.00 273.80,326.30 L273.80,330.8 M274.60,330.8 L274.60,326.30 Q275.40,325.00 276.20,326.30 L276.20,330.8 M277.00,330.8 L277.00,326.30 Q277.80,325.00 278.60,326.30 L278.60,330.8 " fill="none" stroke="#111" stroke-width="1.19" />
<g transform="translate(558.0,0) scale(-1,1)">
<rect x="243.00" y="276.70" width="9.60" height="3.00" rx="0" fill="none" stroke="#111" stroke-width="1.00" />
<rect x="252.60" y="276.70" width="8.70" height="3.00" rx="0" fill="none" stroke="#111" stroke-width="1.00" />
<path d="M210.9,287 Q212.5,284.4 218,284.2 Q230,282.6 240,282.4 L279,282.4" fill="none" stroke="#111" stroke-width="2.50" />
<path d="M216.4,288.2 Q225,286 240,285.8 L279,285.8" fill="none" stroke="#111" stroke-width="2.25" />
<path d="M210.9,287 L208.6,330.5" fill="none" stroke="#111" stroke-width="1.50" />
<line x1="217.20" y1="288.20" x2="214.80" y2="330.50" stroke="#111" stroke-width="1.38" />
<path d="M210.3,299.6 L197.5,299.6 Q192.3,299.8 192.3,304.5 L192.3,315.3 L210.3,315.3" fill="#fff" stroke="#111" stroke-width="1.38" />
<line x1="192.30" y1="306.80" x2="210.30" y2="306.80" stroke="#111" stroke-width="1.00" />
<ellipse cx="203.00" cy="306.80" rx="1.40" ry="2.80" fill="#fff" stroke="#111" stroke-width="1.12" />
<line x1="210.30" y1="299.60" x2="210.30" y2="315.30" stroke="#111" stroke-width="1.12" />
<circle cx="226.10" cy="292.60" r="2.30" fill="#1a1a1a" stroke="#111" stroke-width="1.00" />
<line x1="226.10" y1="294.50" x2="226.10" y2="309.80" stroke="#111" stroke-width="1.12" />
<polygon points="218.80,331.20 232.90,331.20 232.10,340.60 221.90,340.60" fill="none" stroke="#111" stroke-width="1.12" />
<circle cx="223.50" cy="324.70" r="2.40" fill="#111"/>
<path d="M279,288.8 L244,288.8 Q236.2,288.9 235.4,296 L235.4,301.5 Q236,308.8 248,312.3 Q262,316.5 279,316.8" fill="none" stroke="#111" stroke-width="2.38" />
<path d="M279,291.2 L245,291.2 Q238.4,291.4 237.8,297 L237.8,301 Q238.5,307 249,310 Q263,314.3 279,314.5" fill="none" stroke="#111" stroke-width="0.88" />
<circle cx="256.60" cy="299.40" r="1.70" fill="none" stroke="#111" stroke-width="1.12" />
<circle cx="256.60" cy="303.60" r="1.70" fill="none" stroke="#111" stroke-width="1.12" />
<path d="M218,311.5 Q219.5,309.4 224,310.6 Q250,317.8 279,319.4" fill="none" stroke="#111" stroke-width="2.00" />
<path d="M220.2,315.4 Q250,321.4 279,322.4" fill="none" stroke="#111" stroke-width="1.50" />
<line x1="219.50" y1="311.43" x2="222.10" y2="314.93" stroke="#111" stroke-width="1.62" />
<line x1="222.90" y1="311.87" x2="225.50" y2="315.37" stroke="#111" stroke-width="1.62" />
<line x1="226.30" y1="312.29" x2="228.90" y2="315.79" stroke="#111" stroke-width="1.62" />
<line x1="229.70" y1="312.70" x2="232.30" y2="316.20" stroke="#111" stroke-width="1.62" />
<line x1="233.10" y1="313.10" x2="235.70" y2="316.60" stroke="#111" stroke-width="1.62" />
<line x1="236.50" y1="313.48" x2="239.10" y2="316.98" stroke="#111" stroke-width="1.62" />
<line x1="239.90" y1="313.85" x2="242.50" y2="317.35" stroke="#111" stroke-width="1.62" />
<line x1="243.30" y1="314.21" x2="245.90" y2="317.71" stroke="#111" stroke-width="1.62" />
<line x1="246.70" y1="314.55" x2="249.30" y2="318.05" stroke="#111" stroke-width="1.62" />
<line x1="250.10" y1="314.88" x2="252.70" y2="318.38" stroke="#111" stroke-width="1.62" />
<line x1="253.50" y1="315.19" x2="256.10" y2="318.69" stroke="#111" stroke-width="1.62" />
<line x1="256.90" y1="315.49" x2="259.50" y2="318.99" stroke="#111" stroke-width="1.62" />
<line x1="260.30" y1="315.77" x2="262.90" y2="319.27" stroke="#111" stroke-width="1.62" />
<line x1="263.70" y1="316.05" x2="266.30" y2="319.55" stroke="#111" stroke-width="1.62" />
<line x1="267.10" y1="316.31" x2="269.70" y2="319.81" stroke="#111" stroke-width="1.62" />
<line x1="270.50" y1="316.55" x2="273.10" y2="320.05" stroke="#111" stroke-width="1.62" />
<line x1="273.90" y1="316.78" x2="276.50" y2="320.28" stroke="#111" stroke-width="1.62" />
<line x1="277.30" y1="317.00" x2="279.90" y2="320.50" stroke="#111" stroke-width="1.62" />
<path d="M226.60,330.8 L226.60,320.39 Q227.40,319.09 228.20,320.39 L228.20,330.8 M229.00,330.8 L229.00,320.74 Q229.80,319.44 230.60,320.74 L230.60,330.8 M231.40,330.8 L231.40,321.09 Q232.20,319.79 233.00,321.09 L233.00,330.8 M233.80,330.8 L233.80,321.45 Q234.60,320.15 235.40,321.45 L235.40,330.8 M236.20,330.8 L236.20,321.80 Q237.00,320.50 237.80,321.80 L237.80,330.8 M238.60,330.8 L238.60,322.15 Q239.40,320.85 240.20,322.15 L240.20,330.8 M241.00,330.8 L241.00,322.51 Q241.80,321.21 242.60,322.51 L242.60,330.8 M243.40,330.8 L243.40,322.86 Q244.20,321.56 245.00,322.86 L245.00,330.8 M245.80,330.8 L245.80,323.21 Q246.60,321.91 247.40,323.21 L247.40,330.8 M248.20,330.8 L248.20,323.57 Q249.00,322.27 249.80,323.57 L249.80,330.8 M250.60,330.8 L250.60,323.92 Q251.40,322.62 252.20,323.92 L252.20,330.8 M253.00,330.8 L253.00,324.27 Q253.80,322.97 254.60,324.27 L254.60,330.8 M255.40,330.8 L255.40,324.63 Q256.20,323.33 257.00,324.63 L257.00,330.8 M257.80,330.8 L257.80,324.98 Q258.60,323.68 259.40,324.98 L259.40,330.8 M260.20,330.8 L260.20,325.33 Q261.00,324.03 261.80,325.33 L261.80,330.8 M262.60,330.8 L262.60,325.69 Q263.40,324.39 264.20,325.69 L264.20,330.8 M265.00,330.8 L265.00,326.04 Q265.80,324.74 266.60,326.04 L266.60,330.8 M267.40,330.8 L267.40,326.30 Q268.20,325.00 269.00,326.30 L269.00,330.8 M269.80,330.8 L269.80,326.30 Q270.60,325.00 271.40,326.30 L271.40,330.8 M272.20,330.8 L272.20,326.30 Q273.00,325.00 273.80,326.30 L273.80,330.8 M274.60,330.8 L274.60,326.30 Q275.40,325.00 276.20,326.30 L276.20,330.8 M277.00,330.8 L277.00,326.30 Q277.80,325.00 278.60,326.30 L278.60,330.8 " fill="none" stroke="#111" stroke-width="1.19" />
</g>
<line x1="208.60" y1="331.00" x2="349.40" y2="331.00" stroke="#111" stroke-width="2.00" />
<line x1="243.00" y1="279.60" x2="315.00" y2="279.60" stroke="#111" stroke-width="1.00" />
<rect x="260.60" y="294.90" width="23.40" height="17.40" rx="2" fill="none" stroke="#111" stroke-width="4.00" />
<circle cx="289.90" cy="294.50" r="3.60" fill="#111"/>
<circle cx="296.50" cy="297.40" r="3.60" fill="#111"/>
<circle cx="289.90" cy="303.80" r="3.60" fill="#111"/>
<circle cx="303.40" cy="303.60" r="3.60" fill="#111"/>
<circle cx="296.50" cy="310.60" r="3.60" fill="#111"/>
<path d="M431,140.6 L429.2,123 Q429,120.6 431.5,119.8 L458.6,113.7 Q485,109.5 512.4,107.3 L527.6,106.7" fill="none" stroke="#111" stroke-width="1.38" />
<path d="M527.6,106.7 L527.60,111.00 L528.20,107.60 Q529.20,106.50 530.20,107.60 L530.60,111.00 L532.36,111.14 L532.96,107.89 Q533.96,106.79 534.96,107.89 L535.36,111.14 L537.12,111.29 L537.72,108.18 Q538.72,107.08 539.72,108.18 L540.12,111.29 L541.88,111.43 L542.48,108.47 Q543.48,107.37 544.48,108.47 L544.88,111.43 L546.64,111.58 L547.24,108.76 Q548.24,107.66 549.24,108.76 L549.64,111.58 L551.40,111.72 L552.00,109.04 Q553.00,107.94 554.00,109.04 L554.40,111.72 L556.16,111.87 L556.76,109.33 Q557.76,108.23 558.76,109.33 L559.16,111.87 L560.92,112.01 L561.52,109.62 Q562.52,108.52 563.52,109.62 L563.92,112.01 L565.68,112.16 L566.28,109.91 Q567.28,108.81 568.28,109.91 L568.68,112.16 L570.44,112.30 L571.04,110.20 Q572.04,109.10 573.04,110.20 L573.44,112.30 L578.1,112.7 L582.6,112.4 L596.4,134.5 L596.4,165.5" fill="none" stroke="#111" stroke-width="1.25" />
<path d="M512.4,107.3 L512.4,108.3 L527.6,108.1" fill="none" stroke="#111" stroke-width="1.00" />
<path d="M459.3,113.7 L459.3,118 Q490,113 527.6,109.5" fill="none" stroke="#111" stroke-width="1.12" />
<ellipse cx="476.60" cy="118.90" rx="2.90" ry="2.20" fill="#fff" stroke="#111" stroke-width="1.12" transform="rotate(-25 476.6 118.9)"/>
<path d="M429,127.4 Q480,117 520,112.2 L578.5,112.6" fill="none" stroke="#111" stroke-width="1.25" />
<path d="M430.8,140.6 Q500,136 540,129 Q565,123.5 583.5,120.9 L590.8,126.3 L596.2,134.5" fill="none" stroke="#111" stroke-width="1.38" />
<line x1="579.90" y1="114.50" x2="583.50" y2="120.90" stroke="#111" stroke-width="1.12" />
<path d="M577,134.5 Q585,130.5 591.7,125.4" fill="none" stroke="#111" stroke-width="1.12" />
<ellipse cx="574.30" cy="133.60" rx="2.10" ry="2.70" fill="none" stroke="#111" stroke-width="1.12" transform="rotate(-25 574.3 133.6)"/>
<line x1="556.20" y1="139.10" x2="595.50" y2="138.60" stroke="#111" stroke-width="1.50" />
<path d="M433.5,141.9 Q490,138.4 556,139.1" fill="none" stroke="#111" stroke-width="1.25" />
<path d="M434.4,141.3 Q431.8,150 431.8,165.5" fill="none" stroke="#111" stroke-width="1.25" />
<path d="M553.6,129.9 L556.3,139 L556.3,165.5" fill="none" stroke="#111" stroke-width="1.12" />
<line x1="591.70" y1="138.50" x2="591.70" y2="165.50" stroke="#111" stroke-width="1.12" />
<line x1="451.30" y1="116.00" x2="451.30" y2="165.50" stroke="#111" stroke-width="1.25" />
<g transform="translate(0,331.0) scale(1,-1)">
<path d="M431,140.6 L429.2,123 Q429,120.6 431.5,119.8 L458.6,113.7 Q485,109.5 512.4,107.3 L527.6,106.7" fill="none" stroke="#111" stroke-width="1.38" />
<path d="M527.6,106.7 L527.60,111.00 L528.20,107.60 Q529.20,106.50 530.20,107.60 L530.60,111.00 L532.36,111.14 L532.96,107.89 Q533.96,106.79 534.96,107.89 L535.36,111.14 L537.12,111.29 L537.72,108.18 Q538.72,107.08 539.72,108.18 L540.12,111.29 L541.88,111.43 L542.48,108.47 Q543.48,107.37 544.48,108.47 L544.88,111.43 L546.64,111.58 L547.24,108.76 Q548.24,107.66 549.24,108.76 L549.64,111.58 L551.40,111.72 L552.00,109.04 Q553.00,107.94 554.00,109.04 L554.40,111.72 L556.16,111.87 L556.76,109.33 Q557.76,108.23 558.76,109.33 L559.16,111.87 L560.92,112.01 L561.52,109.62 Q562.52,108.52 563.52,109.62 L563.92,112.01 L565.68,112.16 L566.28,109.91 Q567.28,108.81 568.28,109.91 L568.68,112.16 L570.44,112.30 L571.04,110.20 Q572.04,109.10 573.04,110.20 L573.44,112.30 L578.1,112.7 L580.8,113.4 L583.6,120.5 L590.8,125.6 L595.8,136.8 L596.2,139 L596.2,165.5" fill="none" stroke="#111" stroke-width="1.25" />
<path d="M512.4,107.3 L512.4,108.3 L527.6,108.1" fill="none" stroke="#111" stroke-width="1.00" />
<path d="M459.3,113.7 L459.3,118 Q490,113 527.6,109.5" fill="none" stroke="#111" stroke-width="1.12" />
<ellipse cx="476.60" cy="118.90" rx="2.90" ry="2.20" fill="#fff" stroke="#111" stroke-width="1.12" transform="rotate(-25 476.6 118.9)"/>
<path d="M429,127.4 Q480,117 520,112.2 L578.5,112.6" fill="none" stroke="#111" stroke-width="1.25" />
<path d="M430.8,140.6 Q500,136 540,129 Q565,123.5 583.5,120.9" fill="none" stroke="#111" stroke-width="1.38" />
<line x1="579.90" y1="114.50" x2="583.50" y2="120.90" stroke="#111" stroke-width="1.12" />
<path d="M577,134.5 Q585,130.5 591.7,125.4" fill="none" stroke="#111" stroke-width="1.12" />
<ellipse cx="574.30" cy="133.60" rx="2.10" ry="2.70" fill="none" stroke="#111" stroke-width="1.12" transform="rotate(-25 574.3 133.6)"/>
<line x1="556.20" y1="139.10" x2="595.50" y2="138.60" stroke="#111" stroke-width="2.00" />
<path d="M433.5,141.9 Q490,138.4 556,139.1" fill="none" stroke="#111" stroke-width="1.25" />
<path d="M434.4,141.3 Q431.8,150 431.8,165.5" fill="none" stroke="#111" stroke-width="1.25" />
<path d="M553.6,129.9 L556.3,139 L556.3,165.5" fill="none" stroke="#111" stroke-width="1.12" />
<line x1="591.70" y1="138.50" x2="591.70" y2="165.50" stroke="#111" stroke-width="1.12" />
<line x1="451.30" y1="116.00" x2="451.30" y2="165.50" stroke="#111" stroke-width="1.25" />
</g>
<line x1="451.30" y1="165.50" x2="596.40" y2="165.50" stroke="#111" stroke-width="1.12" />
<line x1="426.50" y1="121.00" x2="426.50" y2="203.00" stroke="#111" stroke-width="1.25" />
<path d="M712.7,87.6 Q713.2,85 716,85 L759.3,85" fill="none" stroke="#111" stroke-width="1.38" />
<line x1="715.50" y1="85.30" x2="759.30" y2="85.30" stroke="#111" stroke-width="2.38" />
<path d="M712.7,87.6 L714.5,88.3 L734.6,89.2 Q735.6,89.6 735.4,92" fill="none" stroke="#111" stroke-width="1.50" />
<path d="M712.7,87.6 Q704,125 700.2,160 L699.6,186.5 L705.7,186.5" fill="none" stroke="#111" stroke-width="1.38" />
<path d="M699.8,235 Q700.5,237.5 705.1,238 L709.5,240.5 L718.2,249.5 L725.4,252.8 L734,252.8" fill="none" stroke="#111" stroke-width="1.38" />
<path d="M720.7,88.6 Q716,110 713.4,132.8" fill="none" stroke="#111" stroke-width="1.25" />
<path d="M710.6,138 Q707.5,155 706.3,165 L705.7,186 L705.7,235.6" fill="none" stroke="#111" stroke-width="1.25" />
<circle cx="712.10" cy="135.40" r="2.50" fill="#fff" stroke="#111" stroke-width="1.25" />
<path d="M709.8,132.9 L711.4,118 L707,118 L701.2,160 L700.6,186" fill="none" stroke="#111" stroke-width="1.12" />
<path d="M732.4,90 Q729.5,130 726.6,165 L723,210.7 Q721.3,226 719.6,235.6 L713.8,241.4 L707.3,237.2" fill="none" stroke="#111" stroke-width="1.38" />
<path d="M734.8,91 Q732.5,130 730.2,160 L732.4,189 L733.1,213.6" fill="none" stroke="#111" stroke-width="1.25" />
<line x1="723.00" y1="210.70" x2="733.10" y2="213.60" stroke="#111" stroke-width="1.25" />
<path d="M735.4,92 Q747,88.8 759.3,88.8" fill="none" stroke="#111" stroke-width="1.25" />
<path d="M705.5,188.60 L701.2,188.60 Q699.4,189.00 699.6,190.00 Q699.9,191.10 701.6,191.10 L703.8,191.10" fill="none" stroke="#111" stroke-width="1.25" />
<path d="M705.5,192.50 L701.2,192.50 Q699.4,192.90 699.6,193.90 Q699.9,195.00 701.6,195.00 L703.8,195.00" fill="none" stroke="#111" stroke-width="1.25" />
<path d="M705.5,196.40 L701.2,196.40 Q699.4,196.80 699.6,197.80 Q699.9,198.90 701.6,198.90 L703.8,198.90" fill="none" stroke="#111" stroke-width="1.25" />
<path d="M705.5,200.30 L701.2,200.30 Q699.4,200.70 699.6,201.70 Q699.9,202.80 701.6,202.80 L703.8,202.80" fill="none" stroke="#111" stroke-width="1.25" />
<path d="M705.5,204.20 L701.2,204.20 Q699.4,204.60 699.6,205.60 Q699.9,206.70 701.6,206.70 L703.8,206.70" fill="none" stroke="#111" stroke-width="1.25" />
<path d="M705.5,208.10 L701.2,208.10 Q699.4,208.50 699.6,209.50 Q699.9,210.60 701.6,210.60 L703.8,210.60" fill="none" stroke="#111" stroke-width="1.25" />
<path d="M705.5,212.00 L701.2,212.00 Q699.4,212.40 699.6,213.40 Q699.9,214.50 701.6,214.50 L703.8,214.50" fill="none" stroke="#111" stroke-width="1.25" />
<path d="M705.5,215.90 L701.2,215.90 Q699.4,216.30 699.6,217.30 Q699.9,218.40 701.6,218.40 L703.8,218.40" fill="none" stroke="#111" stroke-width="1.25" />
<path d="M705.5,219.80 L701.2,219.80 Q699.4,220.20 699.6,221.20 Q699.9,222.30 701.6,222.30 L703.8,222.30" fill="none" stroke="#111" stroke-width="1.25" />
<path d="M705.5,223.70 L701.2,223.70 Q699.4,224.10 699.6,225.10 Q699.9,226.20 701.6,226.20 L703.8,226.20" fill="none" stroke="#111" stroke-width="1.25" />
<path d="M705.5,227.60 L701.2,227.60 Q699.4,228.00 699.6,229.00 Q699.9,230.10 701.6,230.10 L703.8,230.10" fill="none" stroke="#111" stroke-width="1.25" />
<path d="M705.5,231.50 L701.2,231.50 Q699.4,231.90 699.6,232.90 Q699.9,234.00 701.6,234.00 L703.8,234.00" fill="none" stroke="#111" stroke-width="1.25" />
<path d="M731.8,214 Q730,228 726.9,238.5 L718.9,249.5" fill="none" stroke="#111" stroke-width="1.25" />
<ellipse cx="726.60" cy="232.40" rx="3.40" ry="2.40" fill="none" stroke="#111" stroke-width="1.25" transform="rotate(35 726.6 232.4)"/>
<line x1="733.60" y1="213.60" x2="733.60" y2="252.80" stroke="#111" stroke-width="1.25" />
<g transform="translate(1518.6,0) scale(-1,1)">
<path d="M712.7,87.6 Q713.2,85 716,85 L759.3,85" fill="none" stroke="#111" stroke-width="1.38" />
<line x1="715.50" y1="85.30" x2="759.30" y2="85.30" stroke="#111" stroke-width="2.38" />
<path d="M712.7,87.6 L714.5,88.3 L734.6,89.2 Q735.6,89.6 735.4,92" fill="none" stroke="#111" stroke-width="1.50" />
<path d="M712.7,87.6 Q704,125 700.2,160 L699.6,186.5 L705.7,186.5" fill="none" stroke="#111" stroke-width="1.38" />
<path d="M699.8,235 Q700.5,237.5 705.1,238 L709.5,240.5 L718.2,249.5 L725.4,252.8 L734,252.8" fill="none" stroke="#111" stroke-width="1.38" />
<path d="M720.7,88.6 Q716,110 713.4,132.8" fill="none" stroke="#111" stroke-width="1.25" />
<path d="M710.6,138 Q707.5,155 706.3,165 L705.7,186 L705.7,235.6" fill="none" stroke="#111" stroke-width="1.25" />
<circle cx="712.10" cy="135.40" r="2.50" fill="#fff" stroke="#111" stroke-width="1.25" />
<path d="M709.8,132.9 L711.4,118 L707,118 L701.2,160 L700.6,186" fill="none" stroke="#111" stroke-width="1.12" />
<path d="M732.4,90 Q729.5,130 726.6,165 L723,210.7 Q721.3,226 719.6,235.6 L713.8,241.4 L707.3,237.2" fill="none" stroke="#111" stroke-width="1.38" />
<path d="M734.8,91 Q732.5,130 730.2,160 L732.4,189 L733.1,213.6" fill="none" stroke="#111" stroke-width="1.25" />
<line x1="723.00" y1="210.70" x2="733.10" y2="213.60" stroke="#111" stroke-width="1.25" />
<path d="M735.4,92 Q747,88.8 759.3,88.8" fill="none" stroke="#111" stroke-width="1.25" />
<path d="M705.5,188.60 L701.2,188.60 Q699.4,189.00 699.6,190.00 Q699.9,191.10 701.6,191.10 L703.8,191.10" fill="none" stroke="#111" stroke-width="1.25" />
<path d="M705.5,192.50 L701.2,192.50 Q699.4,192.90 699.6,193.90 Q699.9,195.00 701.6,195.00 L703.8,195.00" fill="none" stroke="#111" stroke-width="1.25" />
<path d="M705.5,196.40 L701.2,196.40 Q699.4,196.80 699.6,197.80 Q699.9,198.90 701.6,198.90 L703.8,198.90" fill="none" stroke="#111" stroke-width="1.25" />
<path d="M705.5,200.30 L701.2,200.30 Q699.4,200.70 699.6,201.70 Q699.9,202.80 701.6,202.80 L703.8,202.80" fill="none" stroke="#111" stroke-width="1.25" />
<path d="M705.5,204.20 L701.2,204.20 Q699.4,204.60 699.6,205.60 Q699.9,206.70 701.6,206.70 L703.8,206.70" fill="none" stroke="#111" stroke-width="1.25" />
<path d="M705.5,208.10 L701.2,208.10 Q699.4,208.50 699.6,209.50 Q699.9,210.60 701.6,210.60 L703.8,210.60" fill="none" stroke="#111" stroke-width="1.25" />
<path d="M705.5,212.00 L701.2,212.00 Q699.4,212.40 699.6,213.40 Q699.9,214.50 701.6,214.50 L703.8,214.50" fill="none" stroke="#111" stroke-width="1.25" />
<path d="M705.5,215.90 L701.2,215.90 Q699.4,216.30 699.6,217.30 Q699.9,218.40 701.6,218.40 L703.8,218.40" fill="none" stroke="#111" stroke-width="1.25" />
<path d="M705.5,219.80 L701.2,219.80 Q699.4,220.20 699.6,221.20 Q699.9,222.30 701.6,222.30 L703.8,222.30" fill="none" stroke="#111" stroke-width="1.25" />
<path d="M705.5,223.70 L701.2,223.70 Q699.4,224.10 699.6,225.10 Q699.9,226.20 701.6,226.20 L703.8,226.20" fill="none" stroke="#111" stroke-width="1.25" />
<path d="M705.5,227.60 L701.2,227.60 Q699.4,228.00 699.6,229.00 Q699.9,230.10 701.6,230.10 L703.8,230.10" fill="none" stroke="#111" stroke-width="1.25" />
<path d="M705.5,231.50 L701.2,231.50 Q699.4,231.90 699.6,232.90 Q699.9,234.00 701.6,234.00 L703.8,234.00" fill="none" stroke="#111" stroke-width="1.25" />
<path d="M731.8,214 Q730,228 726.9,238.5 L718.9,249.5" fill="none" stroke="#111" stroke-width="1.25" />
<ellipse cx="726.60" cy="232.40" rx="3.40" ry="2.40" fill="none" stroke="#111" stroke-width="1.25" transform="rotate(35 726.6 232.4)"/>
<line x1="733.60" y1="213.60" x2="733.60" y2="252.80" stroke="#111" stroke-width="1.25" />
</g>
<line x1="708.50" y1="108.70" x2="810.10" y2="108.70" stroke="#111" stroke-width="1.25" />
<line x1="759.30" y1="108.70" x2="759.30" y2="156.00" stroke="#111" stroke-width="1.12" />
<path d="M499.8,150 Q494.5,165.5 499.8,182" fill="none" stroke="#111" stroke-width="1.25" />
<path d="M546.8,150 Q552,165.5 546.8,182" fill="none" stroke="#111" stroke-width="1.25" />
<path d="M499.8,151 L512.8,140.3 L533.5,140.3 L546.8,151 L546.8,262 Q546.6,268 544.2,278.8 L502.5,278.8 Q500,268 499.8,262 Z" fill="#fff" stroke="#111" stroke-width="1.38" />
<line x1="504.60" y1="150.50" x2="504.60" y2="257.40" stroke="#111" stroke-width="1.50" />
<line x1="541.80" y1="150.50" x2="541.80" y2="257.40" stroke="#111" stroke-width="1.50" />
<path d="M504.6,257.4 Q504.4,263 501.5,267.5" fill="none" stroke="#111" stroke-width="1.25" />
<path d="M541.8,257.4 Q542,263 544.9,267.5" fill="none" stroke="#111" stroke-width="1.25" />
<path d="M503.4,150.5 L513.5,142.6 L533,142.6 L543.2,150.5" fill="none" stroke="#111" stroke-width="1.25" />
<path d="M503.4,150.5 L503.4,155 Q505,168.2 523.3,168.2 Q541.6,168.2 543.2,155 L543.2,150.5" fill="#fff" stroke="#111" stroke-width="2.38" />
<line x1="523.00" y1="139.50" x2="523.00" y2="278.80" stroke="#444" stroke-width="1.00" />
<ellipse cx="523.75" cy="213.75" rx="11.75" ry="5.75" fill="#fff" stroke="#111" stroke-width="1.38" />
<line x1="500.00" y1="222.60" x2="546.60" y2="222.60" stroke="#666" stroke-width="0.88" />
<line x1="500.00" y1="240.50" x2="546.80" y2="240.50" stroke="#111" stroke-width="1.38" />
<rect x="500.00" y="243.10" width="46.80" height="3.20" rx="0" fill="#666" stroke="#111" stroke-width="1.12" />
<line x1="500.00" y1="248.30" x2="546.80" y2="248.30" stroke="#111" stroke-width="1.25" />
<line x1="500.00" y1="250.30" x2="546.80" y2="250.30" stroke="#111" stroke-width="1.25" />
<line x1="500.00" y1="252.20" x2="546.80" y2="252.20" stroke="#111" stroke-width="1.25" />
<line x1="500.00" y1="254.20" x2="546.80" y2="254.20" stroke="#111" stroke-width="1.25" />
<line x1="500.00" y1="256.10" x2="546.80" y2="256.10" stroke="#111" stroke-width="1.25" />
<path d="M512.7,266.6 A10.5,6.8 0 0 1 533.7,266.6 L529.4,266.6 A6.2,3.6 0 0 0 517,266.6 Z" fill="#fff" stroke="#111" stroke-width="1.25" />
<line x1="529.10" y1="265.49" x2="533.19" y2="264.50" stroke="#111" stroke-width="1.00" />
<line x1="528.22" y1="264.48" x2="531.69" y2="262.60" stroke="#111" stroke-width="1.00" />
<line x1="526.84" y1="263.69" x2="529.37" y2="261.10" stroke="#111" stroke-width="1.00" />
<line x1="525.12" y1="263.18" x2="526.44" y2="260.13" stroke="#111" stroke-width="1.00" />
<line x1="523.20" y1="263.00" x2="523.20" y2="259.80" stroke="#111" stroke-width="1.00" />
<line x1="521.28" y1="263.18" x2="519.96" y2="260.13" stroke="#111" stroke-width="1.00" />
<line x1="519.56" y1="263.69" x2="517.03" y2="261.10" stroke="#111" stroke-width="1.00" />
<line x1="518.18" y1="264.48" x2="514.71" y2="262.60" stroke="#111" stroke-width="1.00" />
<line x1="517.30" y1="265.49" x2="513.21" y2="264.50" stroke="#111" stroke-width="1.00" />
<line x1="508.00" y1="266.80" x2="538.00" y2="266.80" stroke="#111" stroke-width="1.00" />
<rect x="508.00" y="268.50" width="30.00" height="1.40" rx="0.7" fill="#555" stroke="#333" stroke-width="0.38" />
<rect x="508.00" y="271.20" width="30.00" height="1.40" rx="0.7" fill="#555" stroke="#333" stroke-width="0.38" />
<rect x="508.00" y="273.90" width="30.00" height="1.40" rx="0.7" fill="#555" stroke="#333" stroke-width="0.38" />
<path d="M453.4,288 L453.8,285.6 Q454.3,283.5 457,283.3 Q490,281.2 522.7,280.2 Q556,281.2 588,283.3 Q590.7,283.5 591.2,285.6 L591.6,288" fill="none" stroke="#111" stroke-width="1.38" />
<line x1="454.00" y1="287.40" x2="590.80" y2="287.40" stroke="#111" stroke-width="1.25" />
<path d="M472.3,287.4 L522.7,282.2 L572.7,287.4" fill="none" stroke="#111" stroke-width="1.00" />
<rect x="547.50" y="278.60" width="8.00" height="2.60" rx="0" fill="none" stroke="#111" stroke-width="1.00" />
<ellipse cx="522.00" cy="280.60" rx="2.20" ry="1.00" fill="none" stroke="#111" stroke-width="1.00" />
<path d="M454,288.2 L449.7,300 L446.3,310 L443.6,320.9" fill="none" stroke="#111" stroke-width="1.25" />
<path d="M460.2,288.2 L456.5,300 L452.3,313" fill="none" stroke="#111" stroke-width="1.12" />
<polygon points="446.30,310.50 461.50,331.00 451.50,332.00 444.80,325.00" fill="#262626" stroke="#111" stroke-width="1.00" />
<line x1="447.60" y1="314.50" x2="455.50" y2="326.50" stroke="#bbb" stroke-width="0.62" />
<line x1="449.20" y1="315.10" x2="457.10" y2="327.10" stroke="#bbb" stroke-width="0.62" />
<line x1="450.80" y1="315.70" x2="458.70" y2="327.70" stroke="#bbb" stroke-width="0.62" />
<path d="M591,288.2 L595.3,300 L598.7,310 L601.4,320.9" fill="none" stroke="#111" stroke-width="1.25" />
<path d="M584.8,288.2 L588.5,300 L592.7,313" fill="none" stroke="#111" stroke-width="1.12" />
<polygon points="598.70,310.50 583.50,331.00 593.50,332.00 600.20,325.00" fill="#262626" stroke="#111" stroke-width="1.00" />
<line x1="597.40" y1="314.50" x2="589.50" y2="326.50" stroke="#bbb" stroke-width="0.62" />
<line x1="595.80" y1="315.10" x2="587.90" y2="327.10" stroke="#bbb" stroke-width="0.62" />
<line x1="594.20" y1="315.70" x2="586.30" y2="327.70" stroke="#bbb" stroke-width="0.62" />
<line x1="453.00" y1="330.70" x2="591.80" y2="330.70" stroke="#111" stroke-width="2.12" />
<line x1="460.00" y1="332.20" x2="585.00" y2="332.20" stroke="#111" stroke-width="1.12" />
<polygon points="465.20,332.30 478.60,332.30 476.60,341.80 467.30,341.80" fill="none" stroke="#111" stroke-width="1.12" />
<polygon points="567.40,332.30 580.40,332.30 578.30,341.80 569.40,341.80" fill="none" stroke="#111" stroke-width="1.12" />
<line x1="472.20" y1="288.20" x2="469.00" y2="330.60" stroke="#111" stroke-width="1.12" />
<line x1="572.80" y1="288.20" x2="576.00" y2="330.60" stroke="#111" stroke-width="1.12" />
<line x1="491.30" y1="317.00" x2="491.30" y2="330.60" stroke="#111" stroke-width="1.12" />
<line x1="500.60" y1="317.00" x2="500.60" y2="330.60" stroke="#111" stroke-width="1.12" />
<line x1="544.60" y1="317.00" x2="544.60" y2="330.60" stroke="#111" stroke-width="1.12" />
<line x1="553.50" y1="317.00" x2="553.50" y2="330.60" stroke="#111" stroke-width="1.12" />
<path d="M494.5,299.4 L496,289.8 L498.9,287.6 L546.6,287.6 L549.3,289.8 L550.6,299.4" fill="none" stroke="#111" stroke-width="1.12" />
<path d="M506.30,293.2 L506.30,287 L507.50,285.2 L508.70,287 L508.70,293.2" fill="#777" stroke="#111" stroke-width="1.00" />
<path d="M509.63,293.2 L509.63,287 L510.83,285.2 L512.03,287 L512.03,293.2" fill="#777" stroke="#111" stroke-width="1.00" />
<path d="M512.96,293.2 L512.96,287 L514.16,285.2 L515.36,287 L515.36,293.2" fill="#777" stroke="#111" stroke-width="1.00" />
<path d="M516.29,293.2 L516.29,287 L517.49,285.2 L518.69,287 L518.69,293.2" fill="#777" stroke="#111" stroke-width="1.00" />
<path d="M519.62,293.2 L519.62,287 L520.82,285.2 L522.02,287 L522.02,293.2" fill="#777" stroke="#111" stroke-width="1.00" />
<path d="M522.95,293.2 L522.95,287 L524.15,285.2 L525.35,287 L525.35,293.2" fill="#777" stroke="#111" stroke-width="1.00" />
<path d="M526.28,293.2 L526.28,287 L527.48,285.2 L528.68,287 L528.68,293.2" fill="#777" stroke="#111" stroke-width="1.00" />
<path d="M529.61,293.2 L529.61,287 L530.81,285.2 L532.01,287 L532.01,293.2" fill="#777" stroke="#111" stroke-width="1.00" />
<path d="M532.94,293.2 L532.94,287 L534.14,285.2 L535.34,287 L535.34,293.2" fill="#777" stroke="#111" stroke-width="1.00" />
<path d="M536.27,293.2 L536.27,287 L537.47,285.2 L538.67,287 L538.67,293.2" fill="#777" stroke="#111" stroke-width="1.00" />
<rect x="500.20" y="294.60" width="45.80" height="4.60" rx="2.3" fill="#fff" stroke="#111" stroke-width="1.25" />
<rect x="506.60" y="316.50" width="2.30" height="13.60" rx="1.0" fill="#888" stroke="#111" stroke-width="1.00" />
<rect x="509.93" y="316.50" width="2.30" height="13.60" rx="1.0" fill="#888" stroke="#111" stroke-width="1.00" />
<rect x="513.26" y="316.50" width="2.30" height="13.60" rx="1.0" fill="#888" stroke="#111" stroke-width="1.00" />
<rect x="516.59" y="316.50" width="2.30" height="13.60" rx="1.0" fill="#888" stroke="#111" stroke-width="1.00" />
<rect x="519.92" y="316.50" width="2.30" height="13.60" rx="1.0" fill="#888" stroke="#111" stroke-width="1.00" />
<rect x="523.25" y="316.50" width="2.30" height="13.60" rx="1.0" fill="#888" stroke="#111" stroke-width="1.00" />
<rect x="526.58" y="316.50" width="2.30" height="13.60" rx="1.0" fill="#888" stroke="#111" stroke-width="1.00" />
<rect x="529.91" y="316.50" width="2.30" height="13.60" rx="1.0" fill="#888" stroke="#111" stroke-width="1.00" />
<rect x="533.24" y="316.50" width="2.30" height="13.60" rx="1.0" fill="#888" stroke="#111" stroke-width="1.00" />
<rect x="536.57" y="316.50" width="2.30" height="13.60" rx="1.0" fill="#888" stroke="#111" stroke-width="1.00" />
<path d="M476,299.6 L569,299.6 Q572.8,299.8 572.8,304 L572.8,313 Q572.8,317.2 569,317.2 L476,317.2 Q472.3,317.2 472.3,313 L472.3,304 Q472.3,299.8 476,299.6 Z" fill="#fff" stroke="#111" stroke-width="1.38" />
<path d="M475.5,300.9 L569.5,300.9" fill="none" stroke="#111" stroke-width="2.50" />
<path d="M475.5,315.7 L569.5,315.7" fill="none" stroke="#111" stroke-width="2.75" />
<line x1="472.60" y1="308.00" x2="572.50" y2="308.00" stroke="#111" stroke-width="1.12" />
<circle cx="484.30" cy="308.10" r="3.00" fill="#222" stroke="#111" stroke-width="1.25" />
<circle cx="560.70" cy="308.10" r="2.80" fill="#fff" stroke="#111" stroke-width="2.00" />
<g transform="translate(236,16.3)">
<path d="M453.4,288 L453.8,285.6 Q454.3,283.5 457,283.3 Q490,281.2 522.7,280.2 Q556,281.2 588,283.3 Q590.7,283.5 591.2,285.6 L591.6,288" fill="none" stroke="#111" stroke-width="1.38" />
<line x1="454.00" y1="287.40" x2="590.80" y2="287.40" stroke="#111" stroke-width="1.25" />
<path d="M472.3,287.4 L522.7,282.2 L572.7,287.4" fill="none" stroke="#111" stroke-width="1.00" />
<rect x="547.50" y="278.60" width="8.00" height="2.60" rx="0" fill="none" stroke="#111" stroke-width="1.00" />
<ellipse cx="522.00" cy="280.60" rx="2.20" ry="1.00" fill="none" stroke="#111" stroke-width="1.00" />
<path d="M454,288.2 L449.7,300 L446.3,310 L443.6,320.9" fill="none" stroke="#111" stroke-width="1.25" />
<path d="M460.2,288.2 L456.5,300 L452.3,313" fill="none" stroke="#111" stroke-width="1.12" />
<polygon points="446.30,310.50 461.50,331.00 451.50,332.00 444.80,325.00" fill="#262626" stroke="#111" stroke-width="1.00" />
<line x1="447.60" y1="314.50" x2="455.50" y2="326.50" stroke="#bbb" stroke-width="0.62" />
<line x1="449.20" y1="315.10" x2="457.10" y2="327.10" stroke="#bbb" stroke-width="0.62" />
<line x1="450.80" y1="315.70" x2="458.70" y2="327.70" stroke="#bbb" stroke-width="0.62" />
<path d="M591,288.2 L595.3,300 L598.7,310 L601.4,320.9" fill="none" stroke="#111" stroke-width="1.25" />
<path d="M584.8,288.2 L588.5,300 L592.7,313" fill="none" stroke="#111" stroke-width="1.12" />
<polygon points="598.70,310.50 583.50,331.00 593.50,332.00 600.20,325.00" fill="#262626" stroke="#111" stroke-width="1.00" />
<line x1="597.40" y1="314.50" x2="589.50" y2="326.50" stroke="#bbb" stroke-width="0.62" />
<line x1="595.80" y1="315.10" x2="587.90" y2="327.10" stroke="#bbb" stroke-width="0.62" />
<line x1="594.20" y1="315.70" x2="586.30" y2="327.70" stroke="#bbb" stroke-width="0.62" />
<line x1="453.00" y1="330.70" x2="591.80" y2="330.70" stroke="#111" stroke-width="2.12" />
<line x1="460.00" y1="332.20" x2="585.00" y2="332.20" stroke="#111" stroke-width="1.12" />
<polygon points="465.20,332.30 478.60,332.30 476.60,341.80 467.30,341.80" fill="none" stroke="#111" stroke-width="1.12" />
<polygon points="567.40,332.30 580.40,332.30 578.30,341.80 569.40,341.80" fill="none" stroke="#111" stroke-width="1.12" />
<line x1="472.20" y1="288.20" x2="469.00" y2="330.60" stroke="#111" stroke-width="1.12" />
<line x1="572.80" y1="288.20" x2="576.00" y2="330.60" stroke="#111" stroke-width="1.12" />
<line x1="491.30" y1="317.00" x2="491.30" y2="330.60" stroke="#111" stroke-width="1.12" />
<line x1="500.60" y1="317.00" x2="500.60" y2="330.60" stroke="#111" stroke-width="1.12" />
<line x1="544.60" y1="317.00" x2="544.60" y2="330.60" stroke="#111" stroke-width="1.12" />
<line x1="553.50" y1="317.00" x2="553.50" y2="330.60" stroke="#111" stroke-width="1.12" />
<path d="M494.5,299.4 L496,289.8 L498.9,287.6 L546.6,287.6 L549.3,289.8 L550.6,299.4" fill="none" stroke="#111" stroke-width="1.12" />
<path d="M506.30,293.2 L506.30,287 L507.50,285.2 L508.70,287 L508.70,293.2" fill="#777" stroke="#111" stroke-width="1.00" />
<path d="M509.63,293.2 L509.63,287 L510.83,285.2 L512.03,287 L512.03,293.2" fill="#777" stroke="#111" stroke-width="1.00" />
<path d="M512.96,293.2 L512.96,287 L514.16,285.2 L515.36,287 L515.36,293.2" fill="#777" stroke="#111" stroke-width="1.00" />
<path d="M516.29,293.2 L516.29,287 L517.49,285.2 L518.69,287 L518.69,293.2" fill="#777" stroke="#111" stroke-width="1.00" />
<path d="M519.62,293.2 L519.62,287 L520.82,285.2 L522.02,287 L522.02,293.2" fill="#777" stroke="#111" stroke-width="1.00" />
<path d="M522.95,293.2 L522.95,287 L524.15,285.2 L525.35,287 L525.35,293.2" fill="#777" stroke="#111" stroke-width="1.00" />
<path d="M526.28,293.2 L526.28,287 L527.48,285.2 L528.68,287 L528.68,293.2" fill="#777" stroke="#111" stroke-width="1.00" />
<path d="M529.61,293.2 L529.61,287 L530.81,285.2 L532.01,287 L532.01,293.2" fill="#777" stroke="#111" stroke-width="1.00" />
<path d="M532.94,293.2 L532.94,287 L534.14,285.2 L535.34,287 L535.34,293.2" fill="#777" stroke="#111" stroke-width="1.00" />
<path d="M536.27,293.2 L536.27,287 L537.47,285.2 L538.67,287 L538.67,293.2" fill="#777" stroke="#111" stroke-width="1.00" />
<rect x="500.20" y="294.60" width="45.80" height="4.60" rx="2.3" fill="#fff" stroke="#111" stroke-width="1.25" />
<rect x="506.60" y="316.50" width="2.30" height="13.60" rx="1.0" fill="#888" stroke="#111" stroke-width="1.00" />
<rect x="509.93" y="316.50" width="2.30" height="13.60" rx="1.0" fill="#888" stroke="#111" stroke-width="1.00" />
<rect x="513.26" y="316.50" width="2.30" height="13.60" rx="1.0" fill="#888" stroke="#111" stroke-width="1.00" />
<rect x="516.59" y="316.50" width="2.30" height="13.60" rx="1.0" fill="#888" stroke="#111" stroke-width="1.00" />
<rect x="519.92" y="316.50" width="2.30" height="13.60" rx="1.0" fill="#888" stroke="#111" stroke-width="1.00" />
<rect x="523.25" y="316.50" width="2.30" height="13.60" rx="1.0" fill="#888" stroke="#111" stroke-width="1.00" />
<rect x="526.58" y="316.50" width="2.30" height="13.60" rx="1.0" fill="#888" stroke="#111" stroke-width="1.00" />
<rect x="529.91" y="316.50" width="2.30" height="13.60" rx="1.0" fill="#888" stroke="#111" stroke-width="1.00" />
<rect x="533.24" y="316.50" width="2.30" height="13.60" rx="1.0" fill="#888" stroke="#111" stroke-width="1.00" />
<rect x="536.57" y="316.50" width="2.30" height="13.60" rx="1.0" fill="#888" stroke="#111" stroke-width="1.00" />
<path d="M476,299.6 L569,299.6 Q572.8,299.8 572.8,304 L572.8,313 Q572.8,317.2 569,317.2 L476,317.2 Q472.3,317.2 472.3,313 L472.3,304 Q472.3,299.8 476,299.6 Z" fill="#fff" stroke="#111" stroke-width="1.38" />
<path d="M475.5,300.9 L569.5,300.9" fill="none" stroke="#111" stroke-width="2.50" />
<path d="M475.5,315.7 L569.5,315.7" fill="none" stroke="#111" stroke-width="2.75" />
<line x1="472.60" y1="308.00" x2="572.50" y2="308.00" stroke="#111" stroke-width="1.12" />
<circle cx="484.30" cy="308.10" r="3.00" fill="#222" stroke="#111" stroke-width="1.25" />
<circle cx="560.70" cy="308.10" r="2.80" fill="#fff" stroke="#111" stroke-width="2.00" />
</g>
<g transform="translate(236,15.6)">
<path d="M499.8,150 Q494.5,165.5 499.8,182" fill="none" stroke="#111" stroke-width="1.25" />
<path d="M546.8,150 Q552,165.5 546.8,182" fill="none" stroke="#111" stroke-width="1.25" />
<path d="M499.8,152 Q505,141.5 523.3,139.2 Q541.6,141.5 546.8,152 L546.8,262 Q546.6,268 544.2,278.8 L502.5,278.8 Q500,268 499.8,262 Z" fill="#fff" stroke="#111" stroke-width="1.38" />
<line x1="504.60" y1="150.50" x2="504.60" y2="257.40" stroke="#111" stroke-width="1.50" />
<line x1="541.80" y1="150.50" x2="541.80" y2="257.40" stroke="#111" stroke-width="1.50" />
<path d="M504.6,257.4 Q504.4,263 501.5,267.5" fill="none" stroke="#111" stroke-width="1.25" />
<path d="M541.8,257.4 Q542,263 544.9,267.5" fill="none" stroke="#111" stroke-width="1.25" />
<path d="M503.4,150.5 Q508,143.5 523.3,142.4 Q538.6,143.5 543.2,150.5" fill="none" stroke="#111" stroke-width="1.25" />
<path d="M503.4,150.5 L503.4,155 Q505,168.2 523.3,168.2 Q541.6,168.2 543.2,155 L543.2,150.5" fill="#fff" stroke="#111" stroke-width="2.38" />
<line x1="523.00" y1="139.50" x2="523.00" y2="278.80" stroke="#444" stroke-width="1.00" />
<ellipse cx="523.75" cy="213.75" rx="11.75" ry="5.75" fill="#fff" stroke="#111" stroke-width="1.38" />
<line x1="500.00" y1="222.60" x2="546.60" y2="222.60" stroke="#666" stroke-width="0.88" />
<line x1="500.00" y1="240.50" x2="546.80" y2="240.50" stroke="#111" stroke-width="1.38" />
<rect x="500.00" y="243.10" width="46.80" height="3.20" rx="0" fill="#666" stroke="#111" stroke-width="1.12" />
<line x1="500.00" y1="248.30" x2="546.80" y2="248.30" stroke="#111" stroke-width="1.25" />
<line x1="500.00" y1="250.30" x2="546.80" y2="250.30" stroke="#111" stroke-width="1.25" />
<line x1="500.00" y1="252.20" x2="546.80" y2="252.20" stroke="#111" stroke-width="1.25" />
<line x1="500.00" y1="254.20" x2="546.80" y2="254.20" stroke="#111" stroke-width="1.25" />
<line x1="500.00" y1="256.10" x2="546.80" y2="256.10" stroke="#111" stroke-width="1.25" />
<path d="M512.7,266.6 A10.5,6.8 0 0 1 533.7,266.6 L529.4,266.6 A6.2,3.6 0 0 0 517,266.6 Z" fill="#fff" stroke="#111" stroke-width="1.25" />
<line x1="529.10" y1="265.49" x2="533.19" y2="264.50" stroke="#111" stroke-width="1.00" />
<line x1="528.22" y1="264.48" x2="531.69" y2="262.60" stroke="#111" stroke-width="1.00" />
<line x1="526.84" y1="263.69" x2="529.37" y2="261.10" stroke="#111" stroke-width="1.00" />
<line x1="525.12" y1="263.18" x2="526.44" y2="260.13" stroke="#111" stroke-width="1.00" />
<line x1="523.20" y1="263.00" x2="523.20" y2="259.80" stroke="#111" stroke-width="1.00" />
<line x1="521.28" y1="263.18" x2="519.96" y2="260.13" stroke="#111" stroke-width="1.00" />
<line x1="519.56" y1="263.69" x2="517.03" y2="261.10" stroke="#111" stroke-width="1.00" />
<line x1="518.18" y1="264.48" x2="514.71" y2="262.60" stroke="#111" stroke-width="1.00" />
<line x1="517.30" y1="265.49" x2="513.21" y2="264.50" stroke="#111" stroke-width="1.00" />
<line x1="508.00" y1="266.80" x2="538.00" y2="266.80" stroke="#111" stroke-width="1.00" />
<rect x="508.00" y="268.50" width="30.00" height="1.40" rx="0.7" fill="#555" stroke="#333" stroke-width="0.38" />
<rect x="508.00" y="271.20" width="30.00" height="1.40" rx="0.7" fill="#555" stroke="#333" stroke-width="0.38" />
<rect x="508.00" y="273.90" width="30.00" height="1.40" rx="0.7" fill="#555" stroke="#333" stroke-width="0.38" />
</g>
</svg></body></html>
